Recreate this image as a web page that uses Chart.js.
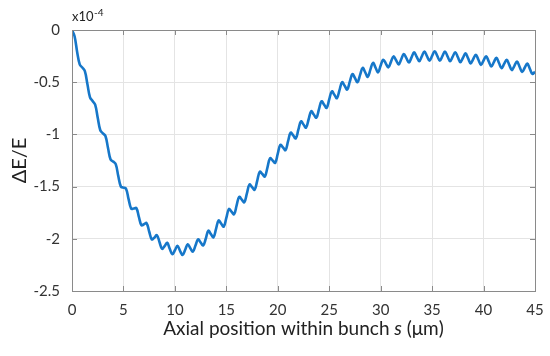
<!DOCTYPE html>
<html>
<head>
<meta charset="utf-8">
<script src="https://cdn.jsdelivr.net/npm/chart.js@4/dist/chart.umd.min.js"></script>
<style>
  html, body { margin: 0; padding: 0; background: #fff; }
  #wrap { width: 550px; height: 356px; }
</style>
</head>
<body>
<div id="wrap"><canvas id="myChart"></canvas></div>
<script>
// axial position s (um)
const positions = [
  0, 0.25, 0.5, 0.75,   1, 1.25, 1.5, 1.75,   2, 2.25, 2.5, 2.75,   3, 3.25, 3.5, 3.75,
  4, 4.25, 4.5, 4.75,   5, 5.25, 5.5, 5.75,   6, 6.25, 6.5, 6.75,   7, 7.25, 7.5, 7.75,
  8, 8.25, 8.5, 8.75,   9, 9.25, 9.5, 9.75,   10, 10.25, 10.5, 10.75,   11, 11.25, 11.5, 11.75,
  12, 12.25, 12.5, 12.75,   13, 13.25, 13.5, 13.75,   14, 14.25, 14.5, 14.75,   15, 15.25, 15.5, 15.75,
  16, 16.25, 16.5, 16.75,   17, 17.25, 17.5, 17.75,   18, 18.25, 18.5, 18.75,   19, 19.25, 19.5, 19.75,
  20, 20.25, 20.5, 20.75,   21, 21.25, 21.5, 21.75,   22, 22.25, 22.5, 22.75,   23, 23.25, 23.5, 23.75,
  24, 24.25, 24.5, 24.75,   25, 25.25, 25.5, 25.75,   26, 26.25, 26.5, 26.75,   27, 27.25, 27.5, 27.75,
  28, 28.25, 28.5, 28.75,   29, 29.25, 29.5, 29.75,   30, 30.25, 30.5, 30.75,   31, 31.25, 31.5, 31.75,
  32, 32.25, 32.5, 32.75,   33, 33.25, 33.5, 33.75,   34, 34.25, 34.5, 34.75,   35, 35.25, 35.5, 35.75,
  36, 36.25, 36.5, 36.75,   37, 37.25, 37.5, 37.75,   38, 38.25, 38.5, 38.75,   39, 39.25, 39.5, 39.75,
  40, 40.25, 40.5, 40.75,   41, 41.25, 41.5, 41.75,   42, 42.25, 42.5, 42.75,   43, 43.25, 43.5, 43.75,
  44, 44.25, 44.5, 44.75,   45
];

// dE/E in units of 1e-4
const energySpread = [
  0, -0.06, -0.21, -0.33,            -0.36, -0.395, -0.52, -0.645,
  -0.68, -0.715, -0.84, -0.96,       -0.99, -1.015, -1.13, -1.24,
  -1.26, -1.285, -1.40, -1.50,       -1.51, -1.52, -1.62, -1.71,
  -1.71, -1.705, -1.79, -1.87,       -1.86, -1.85, -1.93, -2.005,
  -1.99, -1.965, -2.03, -2.095,      -2.07, -2.038, -2.095, -2.148,
  -2.11, -2.068, -2.115, -2.155,     -2.105, -2.053, -2.09, -2.123,
  -2.065, -2.005, -2.035, -2.063,    -2.0, -1.923, -1.955, -1.985,
  -1.905, -1.825, -1.855, -1.883,    -1.8, -1.715, -1.74, -1.765,
  -1.68, -1.598, -1.625, -1.65,      -1.565, -1.48, -1.505, -1.53,
  -1.445, -1.358, -1.38, -1.403,     -1.315, -1.228, -1.25, -1.273,
  -1.185, -1.10, -1.125, -1.15,      -1.065, -0.983, -1.01, -1.038,
  -0.955, -0.875, -0.905, -0.935,    -0.855, -0.778, -0.81, -0.84,
  -0.76, -0.683, -0.715, -0.745,     -0.665, -0.588, -0.62, -0.653,
  -0.575, -0.50, -0.535, -0.57,      -0.495, -0.423, -0.46, -0.50,
  -0.43, -0.363, -0.405, -0.448,     -0.38, -0.315, -0.36, -0.405,
  -0.34, -0.285, -0.32, -0.358,      -0.305, -0.253, -0.29, -0.33,
  -0.28, -0.23, -0.27, -0.311,       -0.262, -0.214, -0.256, -0.299,
  -0.252, -0.206, -0.25, -0.294,     -0.248, -0.203, -0.248, -0.294,
  -0.25, -0.206, -0.252, -0.299,     -0.256, -0.213, -0.26, -0.308,
  -0.266, -0.224, -0.272, -0.32,     -0.278, -0.237, -0.285, -0.334,
  -0.292, -0.251, -0.3, -0.349,      -0.308, -0.267, -0.316, -0.365,
  -0.325, -0.285, -0.334, -0.384,    -0.343, -0.303, -0.352, -0.402,
  -0.362, -0.322, -0.372, -0.421,    -0.40
];

const xTicks = [0, 5, 10, 15, 20, 25, 30, 35, 40, 45];
const yTicks = [0, -0.5, -1, -1.5, -2, -2.5];

const xTitle = ['Axial position within bunch ', 's', ' (\u03bcm)'];
const yTitle = '\u0394E/E';
const scaleNote = ['x10', '-4'];

const FONT = 'Lato, "Open Sans", sans-serif';

// box, inward tick marks, axis titles and the x10^-4 note
const frame = {
  id: 'frame',
  afterDraw(chart) {
    const { ctx, chartArea: a, scales: { x, y } } = chart;
    ctx.save();
    ctx.strokeStyle = '#8a8a8a';
    ctx.lineWidth = 1;
    ctx.strokeRect(Math.round(a.left) + 0.5, Math.round(a.top) + 0.5,
      Math.round(a.right - a.left), Math.round(a.bottom - a.top));

    ctx.beginPath();
    xTicks.forEach(v => {
      const px = Math.round(x.getPixelForValue(v)) + 0.5;
      ctx.moveTo(px, a.bottom); ctx.lineTo(px, a.bottom - 5);
      ctx.moveTo(px, a.top); ctx.lineTo(px, a.top + 5);
    });
    yTicks.forEach(v => {
      const py = Math.round(y.getPixelForValue(v)) + 0.5;
      ctx.moveTo(a.left, py); ctx.lineTo(a.left + 5, py);
      ctx.moveTo(a.right, py); ctx.lineTo(a.right - 5, py);
    });
    ctx.stroke();

    ctx.fillStyle = '#222';
    ctx.textBaseline = 'middle';

    // x title with italic s
    const normal = '19px ' + FONT;
    const italic = 'italic 19px ' + FONT;
    const fonts = [normal, italic, normal];
    let total = 0;
    const widths = xTitle.map((t, i) => { ctx.font = fonts[i]; const w = ctx.measureText(t).width; total += w; return w; });
    let cx = (a.left + a.right) / 2 - total / 2;
    ctx.textAlign = 'left';
    xTitle.forEach((t, i) => { ctx.font = fonts[i]; ctx.fillText(t, cx, 329); cx += widths[i]; });

    // y title
    ctx.save();
    ctx.translate(20, (a.top + a.bottom) / 2);
    ctx.rotate(-Math.PI / 2);
    ctx.textAlign = 'center';
    ctx.font = '20px ' + FONT;
    ctx.fillText(yTitle, 0, 0);
    ctx.restore();

    // exponent note
    ctx.textBaseline = 'alphabetic';
    ctx.textAlign = 'left';
    ctx.font = '13px ' + FONT;
    ctx.fillText(scaleNote[0], a.left, 21);
    const w0 = ctx.measureText(scaleNote[0]).width;
    ctx.font = '10px ' + FONT;
    ctx.fillText(scaleNote[1], a.left + w0 + 0.5, 16);
    ctx.restore();
  }
};

const ctx = document.getElementById('myChart');

new Chart(ctx, {
  type: 'line',
  data: {
    datasets: [{
      data: positions.map((s, i) => ({ x: s, y: energySpread[i] })),
      borderColor: '#1677c9',
      borderWidth: 2.6,
      pointRadius: 0,
      fill: false,
      tension: 0.4,
    }]
  },
  options: {
    animation: false,
    responsive: true,
    maintainAspectRatio: false,
    layout: { padding: { top: 30, right: 15, left: 0, bottom: 0 } },
    scales: {
      x: {
        type: 'linear',
        min: 0,
        max: 45,
        afterBuildTicks: scale => { scale.ticks = xTicks.map(v => ({ value: v })); },
        afterFit: scale => { scale.height = 65; scale.paddingLeft = 0; scale.paddingRight = 0; },
        grid: { color: '#e4e4e4', drawTicks: false },
        border: { display: false },
        ticks: {
          padding: 10,
          color: '#333',
          font: { family: FONT, size: 15 },
          maxRotation: 0,
          callback: v => String(v),
        },
      },
      y: {
        min: -2.5,
        max: 0,
        afterBuildTicks: scale => { scale.ticks = yTicks.map(v => ({ value: v })); },
        afterFit: scale => { scale.width = 72; scale.paddingTop = 0; scale.paddingBottom = 0; },
        grid: { color: '#e4e4e4', drawTicks: false },
        border: { display: false },
        ticks: {
          padding: 12,
          color: '#333',
          font: { family: FONT, size: 15 },
          callback: v => String(v),
        },
      },
    },
    plugins: {
      legend: { display: false },
      tooltip: { enabled: false },
    },
  },
  plugins: [frame]
});
</script>
</body>
</html>
